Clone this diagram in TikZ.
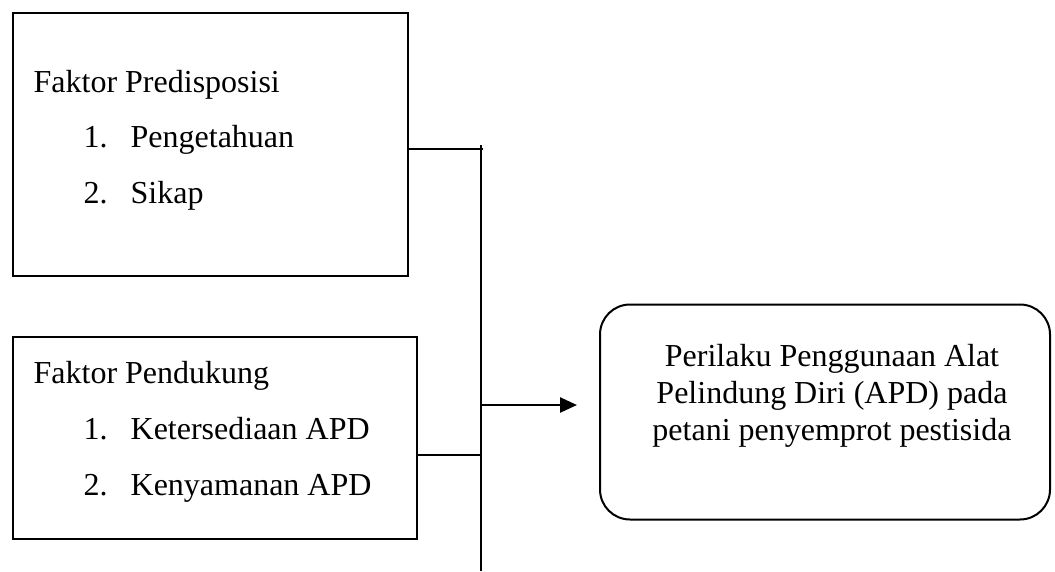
\documentclass[tikz,border=0pt]{standalone}
\usepackage{fontspec}
\setmainfont{Liberation Serif}
\usetikzlibrary{arrows.meta}

\begin{document}
\begin{tikzpicture}[x=1pt,y=-1pt,line width=1.3pt,
    faktorbox/.style={draw, line width=2pt, anchor=north west, inner sep=0pt},
    item/.style={anchor=base west, inner sep=0pt, font=\fontsize{32}{38}\selectfont}]
    \useasboundingbox (0,0) rectangle (1055,571);

    \node[faktorbox, minimum width=395pt, minimum height=263pt] (predisposisi) at (12,12) {};
    \node[faktorbox, minimum width=404pt, minimum height=202pt] (pendukung) at (12,336) {};

    \node[item] (predT) at (33,92) {Faktor Predisposisi};
    \node[item] (predN1) at (83,147) {1.};
    \node[item] (pred1) at (130,147) {Pengetahuan};
    \node[item] (predN2) at (83,203) {2.};
    \node[item] (pred2) at (130,203) {Sikap};

    \node[item] (pendT) at (33,383) {Faktor Pendukung};
    \node[item] (pendN1) at (83,439) {1.};
    \node[item] (pend1) at (130,439) {Ketersediaan APD};
    \node[item] (pendN2) at (83,495) {2.};
    \node[item] (pend2) at (130,495) {Kenyamanan APD};

    \node[draw, line width=2pt, rounded corners=30pt, minimum width=450pt, minimum height=215pt] (perilaku) at (825,412) {};
    \node[align=center, inner sep=0pt, font=\fontsize{32}{37}\selectfont] (perilakuT) at (832,396)
        {Perilaku Penggunaan Alat\\Pelindung Diri (APD) pada\\petani penyemprot pestisida};

    \coordinate (top) at (481,145);
    \coordinate (bot) at (481,571);
    \coordinate (J1) at (483,149);
    \coordinate (J2) at (481,455);
    \coordinate (J3) at (481,405);
    \coordinate (tip) at (577,405);

    \draw (top) -- (bot);
    \draw (J1 -| predisposisi.east) -- (J1);
    \draw (J2 -| pendukung.east) -- (J2);
    \draw[line width=2.5pt, -{Triangle[length=17pt,width=15pt]}] (J3) -- (tip);
\end{tikzpicture}
\end{document}
